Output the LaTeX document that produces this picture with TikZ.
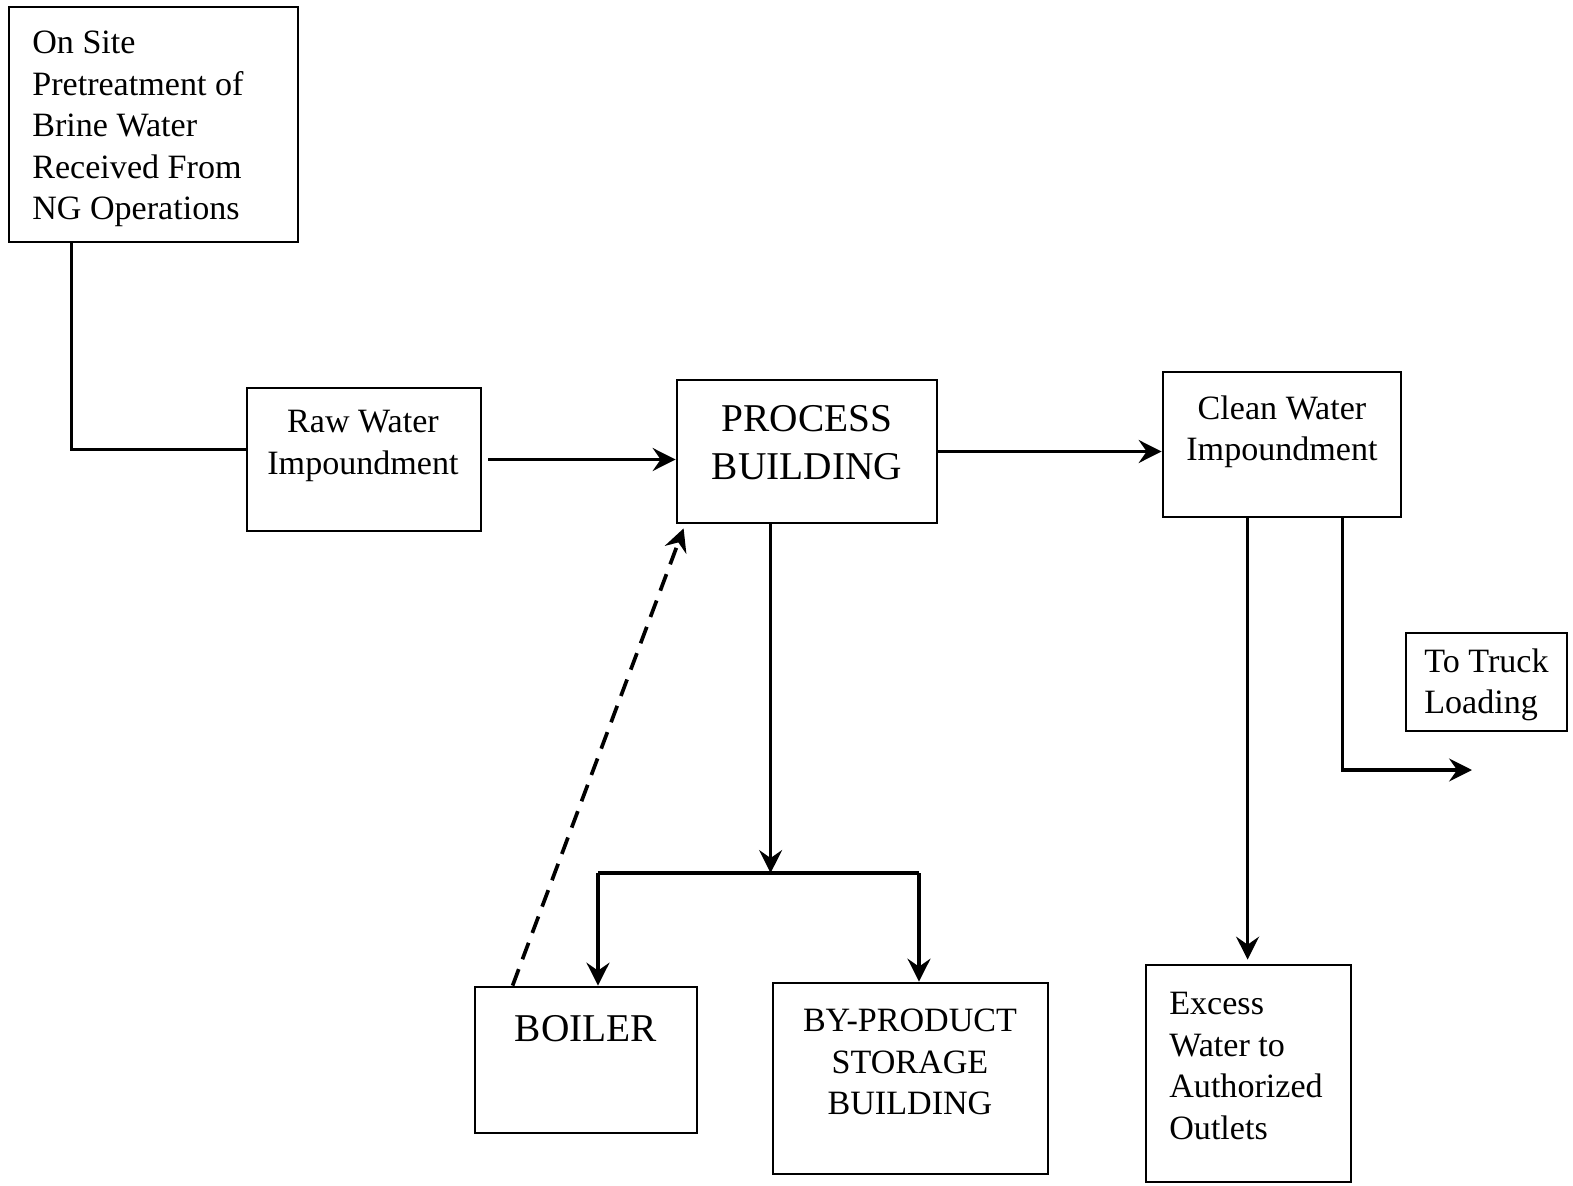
\documentclass[tikz,border=0pt]{standalone}
\usepackage{fontspec}
\setmainfont{Liberation Serif}
\usetikzlibrary{arrows.meta,fit,calc}

\tikzset{
	box/.style={draw, line width=1.6pt, inner sep=0pt},
	txt/.style={inner sep=0pt, align=left, font=\fontsize{19.4}{23.6}\selectfont},
	bigtxt/.style={inner sep=0pt, align=center, font=\fontsize{22.4}{27.2}\selectfont},
	conn/.style={line width=2.1pt},
	arr/.style={line width=2.1pt, -{Stealth[length=13pt,width=13pt,inset=4.5pt]}},
	dash arr/.style={arr, dash pattern=on 10pt off 6pt}
}

\begin{document}
\begin{tikzpicture}[x=0.02cm,y=-0.02cm]
	\useasboundingbox (0,0) rectangle (1573,1186);

	% boxes
	\node[box, fit={(9,7) (298,242)}] (pretreat) {};
	\node[box, fit={(247,388) (481,531)}] (raw) {};
	\node[box, fit={(677,380) (937,523)}] (process) {};
	\node[box, fit={(1163,372) (1401,517)}] (clean) {};
	\node[box, fit={(1406,633) (1567,731)}] (truck) {};
	\node[box, fit={(475,987) (697,1133)}] (boiler) {};
	\node[box, fit={(773,983) (1048,1174)}] (storage) {};
	\node[box, fit={(1146,965) (1351,1182)}] (excess) {};

	% texts
	\node[txt, anchor=west] (pretreattxt) at (32,129) {On Site\\Pretreatment of\\Brine Water\\Received From\\NG Operations};
	\node[txt, align=center] (rawtxt) at (363,446) {Raw Water\\Impoundment};
	\node[bigtxt] (processtxt) at (807,443) {PROCESS\\BUILDING};
	\node[txt, align=center] (cleantxt) at (1282,432) {Clean Water\\Impoundment};
	\node[txt, anchor=west] (trucktxt) at (1424,685) {To Truck\\Loading};
	\node[bigtxt] (boilertxt) at (586,1029) {BOILER};
	\node[txt, align=center] (storagetxt) at (910,1062) {BY-PRODUCT\\STORAGE\\BUILDING};
	\node[txt, anchor=west] (excesstxt) at (1169,1066) {Excess\\Water to\\Authorized\\Outlets};

	% flow
	\draw[conn] ($(pretreat.south west)+(64,0)$) |- ($(raw.west)+(0,-10)$);
	\draw[arr] ($(raw.east)+(6,0)$) -- (process.west |- raw.east);
	\draw[arr] (process.east) -- (clean.west |- process.east);

	\coordinate (barL) at (598,873);
	\coordinate (barR) at (919,873);
	\draw[conn] (barL) -- (barR);
	\draw[arr] ($(process.south west)+(95,0)$) coordinate (pdown) -- (pdown |- barL);
	\draw[arr] (barL) -- (barL |- boiler.north);
	\draw[arr] (barR) -- (barR |- storage.north);
	\draw[dash arr] ($(boiler.north west)+(39,0)$) -- ($(process.south west)+(8,4)$);

	\coordinate (truckend) at (1472,770);
	\draw[arr] ($(clean.south west)+(86,0)$) coordinate (cdown) -- ($(cdown |- excess.north)+(0,-4)$);
	\draw[arr] ($(clean.south west)+(181,0)$) |- (truckend);
\end{tikzpicture}
\end{document}
